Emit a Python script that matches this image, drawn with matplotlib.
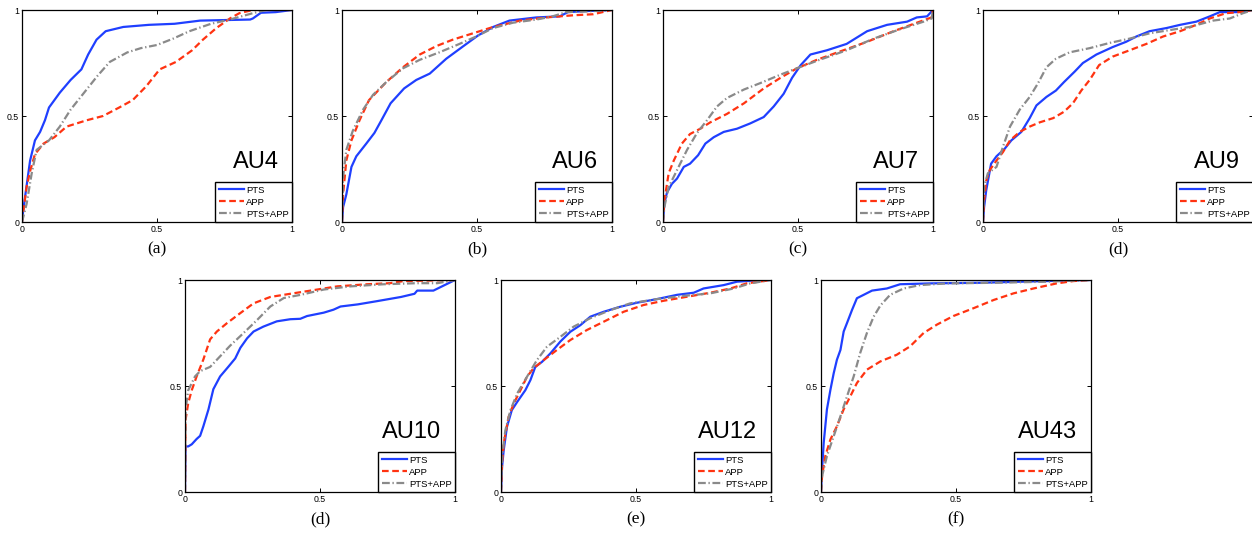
import numpy as np
import matplotlib
matplotlib.use('Agg')
import matplotlib.pyplot as plt

plt.rcParams['font.family'] = ['Liberation Sans', 'DejaVu Sans']

# ROC curves (false positive rate, true positive rate)
au4_pts_x = [0, 0.005, 0.03, 0.048, 0.067, 0.085, 0.10, 0.14, 0.18, 0.22, 0.245, 0.276, 0.31, 0.375, 0.47, 0.565, 0.66, 0.845, 0.855, 0.885, 0.94, 1]
au4_pts_y = [0, 0.06, 0.29, 0.385, 0.425, 0.48, 0.54, 0.61, 0.67, 0.72, 0.79, 0.86, 0.90, 0.92, 0.93, 0.935, 0.95, 0.955, 0.96, 0.987, 0.99, 1]
au4_app_x = [0, 0.017, 0.03, 0.048, 0.08, 0.12, 0.165, 0.24, 0.30, 0.36, 0.41, 0.46, 0.51, 0.57, 0.63, 0.67, 0.72, 0.77, 0.805, 0.855, 1]
au4_app_y = [0, 0.165, 0.24, 0.32, 0.37, 0.40, 0.45, 0.48, 0.50, 0.54, 0.575, 0.64, 0.72, 0.755, 0.81, 0.86, 0.915, 0.96, 0.985, 1.0, 1]
au4_both_x = [0, 0.017, 0.036, 0.054, 0.10, 0.14, 0.18, 0.23, 0.28, 0.325, 0.39, 0.44, 0.50, 0.56, 0.62, 0.70, 0.77, 0.855, 0.905, 1]
au4_both_y = [0, 0.085, 0.23, 0.34, 0.385, 0.45, 0.53, 0.61, 0.69, 0.755, 0.80, 0.82, 0.835, 0.865, 0.90, 0.935, 0.955, 0.985, 1.0, 1]

au6_pts_x = [0, 0.004, 0.016, 0.035, 0.053, 0.09, 0.12, 0.146, 0.18, 0.23, 0.275, 0.325, 0.386, 0.45, 0.504, 0.56, 0.62, 0.72, 0.806, 0.837, 0.905, 1]
au6_pts_y = [0, 0.07, 0.13, 0.26, 0.31, 0.37, 0.42, 0.48, 0.56, 0.63, 0.67, 0.70, 0.77, 0.83, 0.88, 0.92, 0.95, 0.965, 0.97, 0.99, 0.995, 1]
au6_app_x = [0, 0.004, 0.016, 0.035, 0.065, 0.10, 0.164, 0.226, 0.288, 0.35, 0.41, 0.485, 0.56, 0.66, 0.757, 0.856, 0.93, 1]
au6_app_y = [0, 0.13, 0.29, 0.385, 0.48, 0.575, 0.66, 0.73, 0.79, 0.83, 0.86, 0.89, 0.92, 0.95, 0.965, 0.975, 0.98, 1]
au6_both_x = [0, 0.004, 0.016, 0.04, 0.078, 0.115, 0.164, 0.226, 0.288, 0.36, 0.435, 0.497, 0.56, 0.633, 0.72, 0.78, 0.83, 0.905, 1]
au6_both_y = [0, 0.21, 0.34, 0.43, 0.53, 0.60, 0.66, 0.725, 0.765, 0.80, 0.84, 0.875, 0.915, 0.94, 0.955, 0.97, 0.99, 0.993, 1]

au7_pts_x = [0, 0.005, 0.015, 0.033, 0.052, 0.077, 0.10, 0.13, 0.157, 0.188, 0.225, 0.274, 0.323, 0.373, 0.41, 0.447, 0.478, 0.51, 0.546, 0.607, 0.68, 0.756, 0.83, 0.904, 0.94, 0.978, 1]
au7_pts_y = [0, 0.087, 0.14, 0.18, 0.205, 0.26, 0.275, 0.315, 0.37, 0.40, 0.425, 0.44, 0.465, 0.495, 0.545, 0.605, 0.68, 0.74, 0.79, 0.81, 0.84, 0.90, 0.93, 0.945, 0.965, 0.97, 1]
au7_app_x = [0, 0.005, 0.021, 0.04, 0.07, 0.10, 0.138, 0.175, 0.237, 0.30, 0.373, 0.435, 0.496, 0.57, 0.657, 0.756, 0.854, 0.94, 0.995, 1]
au7_app_y = [0, 0.10, 0.23, 0.29, 0.37, 0.415, 0.44, 0.47, 0.51, 0.56, 0.63, 0.68, 0.725, 0.765, 0.805, 0.85, 0.90, 0.94, 0.965, 1]
au7_both_x = [0, 0.005, 0.021, 0.052, 0.089, 0.126, 0.163, 0.20, 0.237, 0.30, 0.36, 0.435, 0.496, 0.58, 0.68, 0.78, 0.88, 0.965, 0.995, 1]
au7_both_y = [0, 0.07, 0.165, 0.245, 0.34, 0.42, 0.48, 0.545, 0.585, 0.625, 0.655, 0.695, 0.725, 0.765, 0.81, 0.865, 0.91, 0.945, 0.96, 1]

au9_pts_x = [0, 0.004, 0.012, 0.03, 0.05, 0.08, 0.105, 0.142, 0.173, 0.198, 0.235, 0.27, 0.30, 0.34, 0.37, 0.42, 0.48, 0.53, 0.568, 0.617, 0.68, 0.73, 0.79, 0.84, 0.877, 0.94, 1]
au9_pts_y = [0, 0.07, 0.15, 0.275, 0.31, 0.345, 0.385, 0.425, 0.49, 0.55, 0.59, 0.62, 0.66, 0.71, 0.75, 0.79, 0.825, 0.85, 0.875, 0.90, 0.915, 0.93, 0.945, 0.97, 0.99, 0.99, 1]
au9_app_x = [0, 0.004, 0.012, 0.025, 0.05, 0.074, 0.10, 0.136, 0.173, 0.21, 0.26, 0.30, 0.333, 0.364, 0.395, 0.43, 0.48, 0.543, 0.605, 0.667, 0.73, 0.79, 0.84, 0.90, 0.95, 1]
au9_app_y = [0, 0.10, 0.195, 0.245, 0.29, 0.33, 0.385, 0.425, 0.45, 0.47, 0.49, 0.52, 0.56, 0.62, 0.67, 0.74, 0.78, 0.81, 0.84, 0.875, 0.90, 0.93, 0.96, 0.985, 0.99, 1]
au9_both_x = [0, 0.004, 0.018, 0.05, 0.074, 0.10, 0.136, 0.173, 0.204, 0.235, 0.27, 0.32, 0.395, 0.47, 0.543, 0.617, 0.69, 0.765, 0.852, 0.914, 0.963, 1]
au9_both_y = [0, 0.165, 0.23, 0.26, 0.355, 0.45, 0.53, 0.59, 0.655, 0.73, 0.77, 0.80, 0.82, 0.845, 0.865, 0.89, 0.905, 0.92, 0.95, 0.96, 0.985, 1]

au10_pts_x = [0, 0.002, 0.012, 0.025, 0.043, 0.056, 0.068, 0.087, 0.105, 0.13, 0.16, 0.186, 0.205, 0.23, 0.254, 0.29, 0.34, 0.39, 0.427, 0.452, 0.514, 0.55, 0.576, 0.64, 0.71, 0.80, 0.85, 0.86, 0.92, 0.96, 1]
au10_pts_y = [0, 0.215, 0.215, 0.225, 0.25, 0.265, 0.31, 0.39, 0.485, 0.545, 0.59, 0.63, 0.68, 0.725, 0.757, 0.78, 0.805, 0.815, 0.817, 0.83, 0.846, 0.86, 0.875, 0.885, 0.90, 0.92, 0.935, 0.95, 0.95, 0.975, 1]
au10_app_x = [0, 0.002, 0.012, 0.025, 0.043, 0.068, 0.093, 0.118, 0.155, 0.204, 0.254, 0.316, 0.39, 0.465, 0.564, 0.675, 0.76, 0.81, 1]
au10_app_y = [0, 0.34, 0.42, 0.48, 0.545, 0.625, 0.72, 0.757, 0.796, 0.843, 0.89, 0.92, 0.935, 0.95, 0.97, 0.98, 0.985, 0.995, 1]
au10_both_x = [0, 0.002, 0.012, 0.037, 0.056, 0.093, 0.13, 0.167, 0.217, 0.266, 0.316, 0.366, 0.428, 0.514, 0.613, 0.737, 0.86, 0.935, 1]
au10_both_y = [0, 0.39, 0.48, 0.545, 0.57, 0.59, 0.64, 0.69, 0.75, 0.81, 0.875, 0.915, 0.93, 0.955, 0.97, 0.98, 0.985, 0.985, 1]

au12_pts_x = [0, 0.004, 0.01, 0.022, 0.04, 0.06, 0.09, 0.109, 0.127, 0.152, 0.183, 0.22, 0.257, 0.294, 0.331, 0.38, 0.442, 0.504, 0.578, 0.652, 0.714, 0.75, 0.825, 0.874, 0.936, 1]
au12_pts_y = [0, 0.12, 0.197, 0.307, 0.386, 0.425, 0.48, 0.528, 0.59, 0.614, 0.654, 0.71, 0.756, 0.787, 0.827, 0.85, 0.874, 0.893, 0.91, 0.93, 0.94, 0.96, 0.976, 0.992, 0.997, 1]
au12_app_x = [0, 0.004, 0.01, 0.028, 0.047, 0.072, 0.096, 0.12, 0.158, 0.207, 0.257, 0.318, 0.38, 0.454, 0.528, 0.602, 0.689, 0.775, 0.85, 0.91, 1]
au12_app_y = [0, 0.134, 0.23, 0.354, 0.417, 0.48, 0.543, 0.583, 0.622, 0.67, 0.717, 0.764, 0.803, 0.85, 0.882, 0.902, 0.921, 0.94, 0.96, 0.984, 1]
au12_both_x = [0, 0.004, 0.016, 0.035, 0.06, 0.096, 0.133, 0.17, 0.22, 0.269, 0.331, 0.405, 0.479, 0.578, 0.677, 0.775, 0.862, 0.923, 1]
au12_both_y = [0, 0.165, 0.29, 0.386, 0.465, 0.543, 0.622, 0.685, 0.732, 0.78, 0.82, 0.858, 0.89, 0.91, 0.925, 0.937, 0.96, 0.984, 1]

au43_pts_x = [0, 0.004, 0.01, 0.022, 0.035, 0.047, 0.059, 0.072, 0.084, 0.096, 0.115, 0.133, 0.158, 0.189, 0.244, 0.293, 0.404, 0.59, 0.836, 1]
au43_pts_y = [0, 0.107, 0.232, 0.39, 0.483, 0.56, 0.624, 0.67, 0.757, 0.796, 0.859, 0.914, 0.93, 0.95, 0.96, 0.98, 0.984, 0.987, 0.995, 1]
au43_app_x = [0, 0.004, 0.016, 0.035, 0.059, 0.084, 0.108, 0.133, 0.17, 0.22, 0.28, 0.33, 0.38, 0.43, 0.49, 0.565, 0.64, 0.713, 0.787, 0.873, 0.935, 1]
au43_app_y = [0, 0.075, 0.17, 0.248, 0.31, 0.39, 0.45, 0.514, 0.577, 0.616, 0.647, 0.687, 0.75, 0.79, 0.83, 0.867, 0.906, 0.937, 0.96, 0.984, 0.995, 1]
au43_both_x = [0, 0.004, 0.022, 0.047, 0.072, 0.096, 0.121, 0.145, 0.17, 0.195, 0.22, 0.256, 0.306, 0.367, 0.466, 0.65, 0.836, 1]
au43_both_y = [0, 0.075, 0.17, 0.263, 0.357, 0.45, 0.545, 0.655, 0.75, 0.827, 0.88, 0.93, 0.96, 0.976, 0.984, 0.987, 0.992, 1]

au_names = ['AU4', 'AU6', 'AU7', 'AU9', 'AU10', 'AU12', 'AU43']
captions = ['(a)', '(b)', '(c)', '(d)', '(d)', '(e)', '(f)']
series_names = ['PTS', 'APP', 'PTS+APP']

curves = [
    [(au4_pts_x, au4_pts_y), (au4_app_x, au4_app_y), (au4_both_x, au4_both_y)],
    [(au6_pts_x, au6_pts_y), (au6_app_x, au6_app_y), (au6_both_x, au6_both_y)],
    [(au7_pts_x, au7_pts_y), (au7_app_x, au7_app_y), (au7_both_x, au7_both_y)],
    [(au9_pts_x, au9_pts_y), (au9_app_x, au9_app_y), (au9_both_x, au9_both_y)],
    [(au10_pts_x, au10_pts_y), (au10_app_x, au10_app_y), (au10_both_x, au10_both_y)],
    [(au12_pts_x, au12_pts_y), (au12_app_x, au12_app_y), (au12_both_x, au12_both_y)],
    [(au43_pts_x, au43_pts_y), (au43_app_x, au43_app_y), (au43_both_x, au43_both_y)],
]

styles = [
    dict(color='#1f3fff', ls='-', lw=1.6),
    dict(color='#ff3311', ls=(0, (3.0, 1.6)), lw=1.6),
    dict(color='#8a8a8a', ls=(0, (3.5, 1.2, 0.6, 1.2)), lw=1.6),
]

W, H = 1252, 538
fig = plt.figure(figsize=(W / 100, H / 100), dpi=100)

# axes boxes in pixels: left, top
boxes = [(22, 10), (342, 10), (663, 10), (983, 10), (185, 280), (501, 280), (821, 280)]
aw, ah = 270, 212

for k, (lx, ty) in enumerate(boxes):
    ax = fig.add_axes([lx / W, 1 - (ty + ah) / H, aw / W, ah / H])
    for (x, y), st, name in zip(curves[k], styles, series_names):
        ax.plot(x, y, label=name, **st)
    ax.set_xlim(0, 1)
    ax.set_ylim(0, 1)
    ax.set_xticks([0, 0.5, 1])
    ax.set_yticks([0, 0.5, 1])
    xl = ['0', '0.5', '1']
    if lx + aw > W:
        # the right edge of this panel runs off the page in the original
        xl[-1] = ''
    ax.set_xticklabels(xl)
    ax.set_yticklabels(['0', '0.5', '1'])
    ax.tick_params(direction='in', length=3, width=0.7, labelsize=6.3, pad=2,
                   top=True, right=True)
    for s in ax.spines.values():
        s.set_linewidth(0.9)
    ax.text(0.95, 0.255, au_names[k], transform=ax.transAxes, ha='right',
            va='baseline', fontsize=17)
    leg = ax.legend(loc='lower right', borderaxespad=0, fontsize=6.8,
                    handlelength=2.7, labelspacing=0.32, borderpad=0.35,
                    handletextpad=0.2, fancybox=False, framealpha=1)
    leg.get_frame().set_edgecolor('black')
    leg.get_frame().set_linewidth(1.0)
    fig.text((lx + aw / 2) / W, 1 - (ty + ah + 27) / H, captions[k],
             ha='center', va='center', fontsize=12.5, family='Liberation Serif')

fig.savefig('out.png', dpi=100)
